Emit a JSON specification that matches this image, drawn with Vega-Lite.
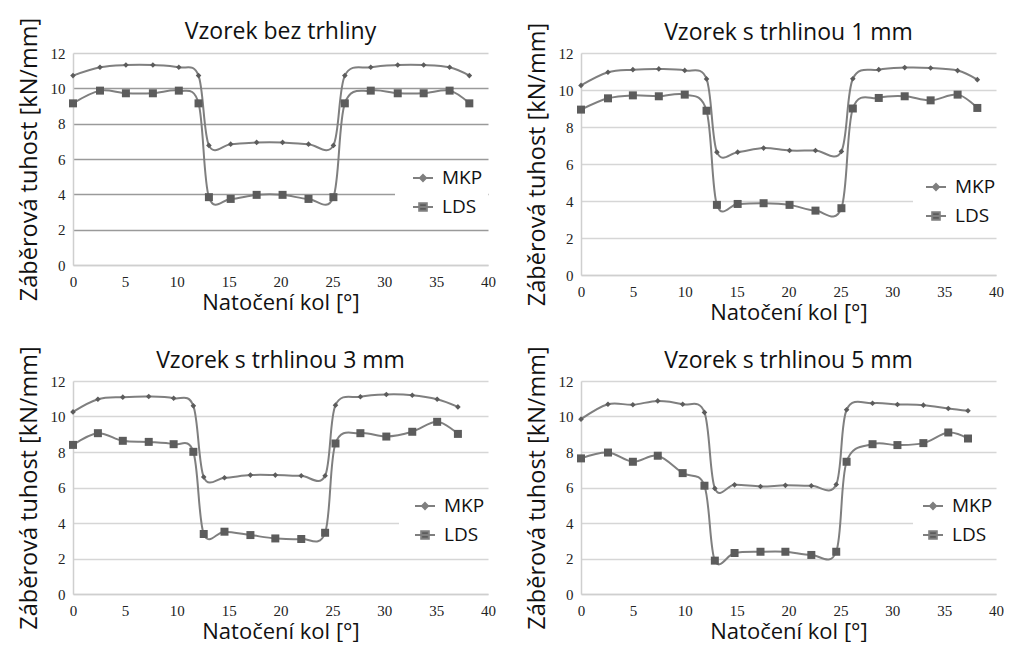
{
  "$schema": "https://vega.github.io/schema/vega-lite/v6.json",
  "background": "white",
  "padding": {"left": 16, "top": 17, "right": 0, "bottom": 0},
  "data": {
    "values": [
      {"vzorek": "bez", "uhel": 0, "MKP": 10.72, "LDS": 9.15},
      {"vzorek": "bez", "uhel": 2.6, "MKP": 11.19, "LDS": 9.87},
      {"vzorek": "bez", "uhel": 5.1, "MKP": 11.32, "LDS": 9.72},
      {"vzorek": "bez", "uhel": 7.7, "MKP": 11.32, "LDS": 9.72},
      {"vzorek": "bez", "uhel": 10.2, "MKP": 11.19, "LDS": 9.87},
      {"vzorek": "bez", "uhel": 12.1, "MKP": 10.72, "LDS": 9.15},
      {"vzorek": "bez", "uhel": 13.1, "MKP": 6.77, "LDS": 3.84},
      {"vzorek": "bez", "uhel": 15.2, "MKP": 6.84, "LDS": 3.74},
      {"vzorek": "bez", "uhel": 17.7, "MKP": 6.94, "LDS": 3.97},
      {"vzorek": "bez", "uhel": 20.2, "MKP": 6.94, "LDS": 3.97},
      {"vzorek": "bez", "uhel": 22.7, "MKP": 6.84, "LDS": 3.74},
      {"vzorek": "bez", "uhel": 25.1, "MKP": 6.77, "LDS": 3.84},
      {"vzorek": "bez", "uhel": 26.2, "MKP": 10.72, "LDS": 9.15},
      {"vzorek": "bez", "uhel": 28.7, "MKP": 11.19, "LDS": 9.87},
      {"vzorek": "bez", "uhel": 31.3, "MKP": 11.32, "LDS": 9.72},
      {"vzorek": "bez", "uhel": 33.8, "MKP": 11.32, "LDS": 9.72},
      {"vzorek": "bez", "uhel": 36.3, "MKP": 11.19, "LDS": 9.87},
      {"vzorek": "bez", "uhel": 38.2, "MKP": 10.72, "LDS": 9.15},

      {"vzorek": "1mm", "uhel": 0, "MKP": 10.25, "LDS": 8.94},
      {"vzorek": "1mm", "uhel": 2.6, "MKP": 10.96, "LDS": 9.55},
      {"vzorek": "1mm", "uhel": 5, "MKP": 11.1, "LDS": 9.71},
      {"vzorek": "1mm", "uhel": 7.5, "MKP": 11.14, "LDS": 9.66},
      {"vzorek": "1mm", "uhel": 10, "MKP": 11.06, "LDS": 9.75},
      {"vzorek": "1mm", "uhel": 12.1, "MKP": 10.6, "LDS": 8.88},
      {"vzorek": "1mm", "uhel": 13.1, "MKP": 6.64, "LDS": 3.79},
      {"vzorek": "1mm", "uhel": 15.1, "MKP": 6.64, "LDS": 3.84},
      {"vzorek": "1mm", "uhel": 17.6, "MKP": 6.86, "LDS": 3.88},
      {"vzorek": "1mm", "uhel": 20.1, "MKP": 6.73, "LDS": 3.79},
      {"vzorek": "1mm", "uhel": 22.6, "MKP": 6.73, "LDS": 3.48},
      {"vzorek": "1mm", "uhel": 25.1, "MKP": 6.68, "LDS": 3.61},
      {"vzorek": "1mm", "uhel": 26.2, "MKP": 10.61, "LDS": 9.0},
      {"vzorek": "1mm", "uhel": 28.7, "MKP": 11.1, "LDS": 9.57},
      {"vzorek": "1mm", "uhel": 31.2, "MKP": 11.21, "LDS": 9.66},
      {"vzorek": "1mm", "uhel": 33.7, "MKP": 11.19, "LDS": 9.44},
      {"vzorek": "1mm", "uhel": 36.3, "MKP": 11.05, "LDS": 9.75},
      {"vzorek": "1mm", "uhel": 38.2, "MKP": 10.56, "LDS": 9.03},

      {"vzorek": "3mm", "uhel": 0, "MKP": 10.26, "LDS": 8.4},
      {"vzorek": "3mm", "uhel": 2.4, "MKP": 10.97, "LDS": 9.06},
      {"vzorek": "3mm", "uhel": 4.8, "MKP": 11.09, "LDS": 8.63},
      {"vzorek": "3mm", "uhel": 7.3, "MKP": 11.13, "LDS": 8.57},
      {"vzorek": "3mm", "uhel": 9.7, "MKP": 11.03, "LDS": 8.44},
      {"vzorek": "3mm", "uhel": 11.6, "MKP": 10.6, "LDS": 8.01},
      {"vzorek": "3mm", "uhel": 12.6, "MKP": 6.59, "LDS": 3.38},
      {"vzorek": "3mm", "uhel": 14.6, "MKP": 6.55, "LDS": 3.51},
      {"vzorek": "3mm", "uhel": 17.1, "MKP": 6.7, "LDS": 3.32},
      {"vzorek": "3mm", "uhel": 19.5, "MKP": 6.7, "LDS": 3.13},
      {"vzorek": "3mm", "uhel": 22, "MKP": 6.66, "LDS": 3.1},
      {"vzorek": "3mm", "uhel": 24.3, "MKP": 6.66, "LDS": 3.45},
      {"vzorek": "3mm", "uhel": 25.3, "MKP": 10.64, "LDS": 8.48},
      {"vzorek": "3mm", "uhel": 27.7, "MKP": 11.11, "LDS": 9.06},
      {"vzorek": "3mm", "uhel": 30.2, "MKP": 11.24, "LDS": 8.87},
      {"vzorek": "3mm", "uhel": 32.7, "MKP": 11.2, "LDS": 9.14},
      {"vzorek": "3mm", "uhel": 35.1, "MKP": 10.97, "LDS": 9.7},
      {"vzorek": "3mm", "uhel": 37.1, "MKP": 10.54, "LDS": 9.02},

      {"vzorek": "5mm", "uhel": 0, "MKP": 9.85, "LDS": 7.64},
      {"vzorek": "5mm", "uhel": 2.6, "MKP": 10.69, "LDS": 7.97},
      {"vzorek": "5mm", "uhel": 5, "MKP": 10.66, "LDS": 7.45},
      {"vzorek": "5mm", "uhel": 7.4, "MKP": 10.88, "LDS": 7.79},
      {"vzorek": "5mm", "uhel": 9.8, "MKP": 10.69, "LDS": 6.81},
      {"vzorek": "5mm", "uhel": 11.9, "MKP": 10.23, "LDS": 6.1},
      {"vzorek": "5mm", "uhel": 12.9, "MKP": 5.95, "LDS": 1.88},
      {"vzorek": "5mm", "uhel": 14.8, "MKP": 6.15, "LDS": 2.31},
      {"vzorek": "5mm", "uhel": 17.3, "MKP": 6.06, "LDS": 2.38},
      {"vzorek": "5mm", "uhel": 19.7, "MKP": 6.12, "LDS": 2.38},
      {"vzorek": "5mm", "uhel": 22.2, "MKP": 6.1, "LDS": 2.2},
      {"vzorek": "5mm", "uhel": 24.6, "MKP": 6.17, "LDS": 2.38},
      {"vzorek": "5mm", "uhel": 25.6, "MKP": 10.38, "LDS": 7.45},
      {"vzorek": "5mm", "uhel": 28.1, "MKP": 10.75, "LDS": 8.44},
      {"vzorek": "5mm", "uhel": 30.5, "MKP": 10.68, "LDS": 8.39},
      {"vzorek": "5mm", "uhel": 33, "MKP": 10.64, "LDS": 8.5},
      {"vzorek": "5mm", "uhel": 35.4, "MKP": 10.45, "LDS": 9.1},
      {"vzorek": "5mm", "uhel": 37.3, "MKP": 10.32, "LDS": 8.76}
    ]
  },
  "transform": [{"fold": ["MKP", "LDS"], "as": ["rada", "tuhost"]}],
  "columns": 2,
  "spacing": {"column": 28, "row": 22},
  "resolve": {"scale": {"shape": "independent"}, "legend": {"shape": "independent"}},
  "config": {
    "view": {"stroke": null},
    "font": "Open Sans",
    "title": {"font": "Open Sans", "fontSize": 23, "fontWeight": "normal", "color": "#111111", "anchor": "middle", "offset": 0, "dy": 31},
    "axis": {
      "labelFont": "Liberation Serif", "labelFontSize": 15, "labelColor": "#222222",
      "labelFlush": false, "labelOverlap": false,
      "titleFont": "Open Sans", "titleFontWeight": "normal", "titleColor": "#111111",
      "ticks": false, "domainColor": "#cfcfcf", "domainWidth": 1.5
    },
    "axisX": {"grid": false, "labelPadding": 9, "titlePadding": 3, "titleFontSize": 22},
    "axisY": {"gridWidth": 1.5, "labelPadding": 8, "titlePadding": 9, "titleFontSize": 23.5},
    "line": {"interpolate": "cardinal", "stroke": "#7f7f7f", "strokeWidth": 2},
    "point": {"filled": true, "color": "#5c5c5c", "opacity": 1, "size": 64},
    "legend": {
      "orient": "none", "fillColor": "white", "padding": 5,
      "labelFont": "Open Sans", "labelFontSize": 19, "labelColor": "#111111",
      "symbolSize": 400, "symbolStrokeWidth": 2, "rowPadding": 8, "labelOffset": 8
    }
  },
  "concat": [
    {
      "title": "Vzorek bez trhliny",
      "width": 415, "height": 212,
      "transform": [{"filter": "datum.vzorek == 'bez'"}],
      "encoding": {
        "x": {"field": "uhel", "type": "quantitative", "scale": {"domain": [0, 40], "nice": false},
              "axis": {"values": [0, 5, 10, 15, 20, 25, 30, 35, 40], "title": "Natočení kol [°]"}},
        "y": {"field": "tuhost", "type": "quantitative", "scale": {"domain": [0, 12], "nice": false},
              "axis": {"values": [0, 2, 4, 6, 8, 10, 12], "title": "Záběrová tuhost [kN/mm]",
                       "gridColor": {"condition": {"test": "datum.value == 0 || datum.value == 12", "value": "#d0d0d0"}, "value": "#9a9a9a"}}}
      },
      "layer": [
        {"mark": "line", "encoding": {"detail": {"field": "rada"}}},
        {
          "mark": "point",
          "encoding": {
            "shape": {"field": "rada", "type": "nominal", "legend": null,
                      "scale": {"domain": ["MKP", "LDS"], "range": ["M0,-0.7L0.7,0L0,0.7L-0.7,0Z", "M-1,-1H1V1H-1Z"]}}
          }
        },
        {
          "transform": [{"filter": "false"}],
          "mark": {"type": "point", "filled": true, "fill": "#5c5c5c", "stroke": "#7f7f7f", "strokeWidth": 2},
          "encoding": {
            "shape": {"field": "rada", "type": "nominal",
                      "scale": {"domain": ["MKP", "LDS"], "range": ["M-1,0H1M0,-0.3L0.3,0L0,0.3L-0.3,0Z", "M-1,0H1M-0.38,-0.38H0.38V0.38H-0.38Z"]},
                      "legend": {"title": null, "legendX": 322, "legendY": 109, "symbolOffset": 12}}
          }
        }
      ],
      "resolve": {"scale": {"shape": "independent"}}
    },
    {
      "title": {"text": "Vzorek s trhlinou 1 mm", "dy": 27},
      "width": 415, "height": 222,
      "transform": [{"filter": "datum.vzorek == '1mm'"}],
      "encoding": {
        "x": {"field": "uhel", "type": "quantitative", "scale": {"domain": [0, 40], "nice": false},
              "axis": {"values": [0, 5, 10, 15, 20, 25, 30, 35, 40], "title": "Natočení kol [°]"}},
        "y": {"field": "tuhost", "type": "quantitative", "scale": {"domain": [0, 12], "nice": false},
              "axis": {"values": [0, 2, 4, 6, 8, 10, 12], "title": "Záběrová tuhost [kN/mm]", "gridColor": "#d6d6d6"}}
      },
      "layer": [
        {"mark": "line", "encoding": {"detail": {"field": "rada"}}},
        {
          "mark": "point",
          "encoding": {
            "shape": {"field": "rada", "type": "nominal", "legend": null,
                      "scale": {"domain": ["MKP", "LDS"], "range": ["M0,-0.7L0.7,0L0,0.7L-0.7,0Z", "M-1,-1H1V1H-1Z"]}}
          }
        },
        {
          "transform": [{"filter": "false"}],
          "mark": {"type": "point", "filled": true, "fill": "#5c5c5c", "stroke": "#7f7f7f", "strokeWidth": 2},
          "encoding": {
            "shape": {"field": "rada", "type": "nominal",
                      "scale": {"domain": ["MKP", "LDS"], "range": ["M-1,0H1M0,-0.3L0.3,0L0,0.3L-0.3,0Z", "M-1,0H1M-0.38,-0.38H0.38V0.38H-0.38Z"]},
                      "legend": {"title": null, "legendX": 332, "legendY": 118, "symbolOffset": 7}}
          }
        }
      ],
      "resolve": {"scale": {"shape": "independent"}}
    },
    {
      "title": "Vzorek s trhlinou 3 mm",
      "width": 415, "height": 213,
      "transform": [{"filter": "datum.vzorek == '3mm'"}],
      "encoding": {
        "x": {"field": "uhel", "type": "quantitative", "scale": {"domain": [0, 40], "nice": false},
              "axis": {"values": [0, 5, 10, 15, 20, 25, 30, 35, 40], "title": "Natočení kol [°]"}},
        "y": {"field": "tuhost", "type": "quantitative", "scale": {"domain": [0, 12], "nice": false},
              "axis": {"values": [0, 2, 4, 6, 8, 10, 12], "title": "Záběrová tuhost [kN/mm]", "gridColor": "#d6d6d6"}}
      },
      "layer": [
        {"mark": "line", "encoding": {"detail": {"field": "rada"}}},
        {
          "mark": "point",
          "encoding": {
            "shape": {"field": "rada", "type": "nominal", "legend": null,
                      "scale": {"domain": ["MKP", "LDS"], "range": ["M0,-0.7L0.7,0L0,0.7L-0.7,0Z", "M-1,-1H1V1H-1Z"]}}
          }
        },
        {
          "transform": [{"filter": "false"}],
          "mark": {"type": "point", "filled": true, "fill": "#5c5c5c", "stroke": "#7f7f7f", "strokeWidth": 2},
          "encoding": {
            "shape": {"field": "rada", "type": "nominal",
                      "scale": {"domain": ["MKP", "LDS"], "range": ["M-1,0H1M0,-0.3L0.3,0L0,0.3L-0.3,0Z", "M-1,0H1M-0.38,-0.38H0.38V0.38H-0.38Z"]},
                      "legend": {"title": null, "legendX": 326, "legendY": 109, "symbolOffset": 10}}
          }
        }
      ],
      "resolve": {"scale": {"shape": "independent"}}
    },
    {
      "title": "Vzorek s trhlinou 5 mm",
      "width": 415, "height": 213,
      "transform": [{"filter": "datum.vzorek == '5mm'"}],
      "encoding": {
        "x": {"field": "uhel", "type": "quantitative", "scale": {"domain": [0, 40], "nice": false},
              "axis": {"values": [0, 5, 10, 15, 20, 25, 30, 35, 40], "title": "Natočení kol [°]"}},
        "y": {"field": "tuhost", "type": "quantitative", "scale": {"domain": [0, 12], "nice": false},
              "axis": {"values": [0, 2, 4, 6, 8, 10, 12], "title": "Záběrová tuhost [kN/mm]", "gridColor": "#d6d6d6"}}
      },
      "layer": [
        {"mark": "line", "encoding": {"detail": {"field": "rada"}}},
        {
          "mark": "point",
          "encoding": {
            "shape": {"field": "rada", "type": "nominal", "legend": null,
                      "scale": {"domain": ["MKP", "LDS"], "range": ["M0,-0.7L0.7,0L0,0.7L-0.7,0Z", "M-1,-1H1V1H-1Z"]}}
          }
        },
        {
          "transform": [{"filter": "false"}],
          "mark": {"type": "point", "filled": true, "fill": "#5c5c5c", "stroke": "#7f7f7f", "strokeWidth": 2},
          "encoding": {
            "shape": {"field": "rada", "type": "nominal",
                      "scale": {"domain": ["MKP", "LDS"], "range": ["M-1,0H1M0,-0.3L0.3,0L0,0.3L-0.3,0Z", "M-1,0H1M-0.38,-0.38H0.38V0.38H-0.38Z"]},
                      "legend": {"title": null, "legendX": 332, "legendY": 109, "symbolOffset": 4}}
          }
        }
      ],
      "resolve": {"scale": {"shape": "independent"}}
    }
  ]
}
